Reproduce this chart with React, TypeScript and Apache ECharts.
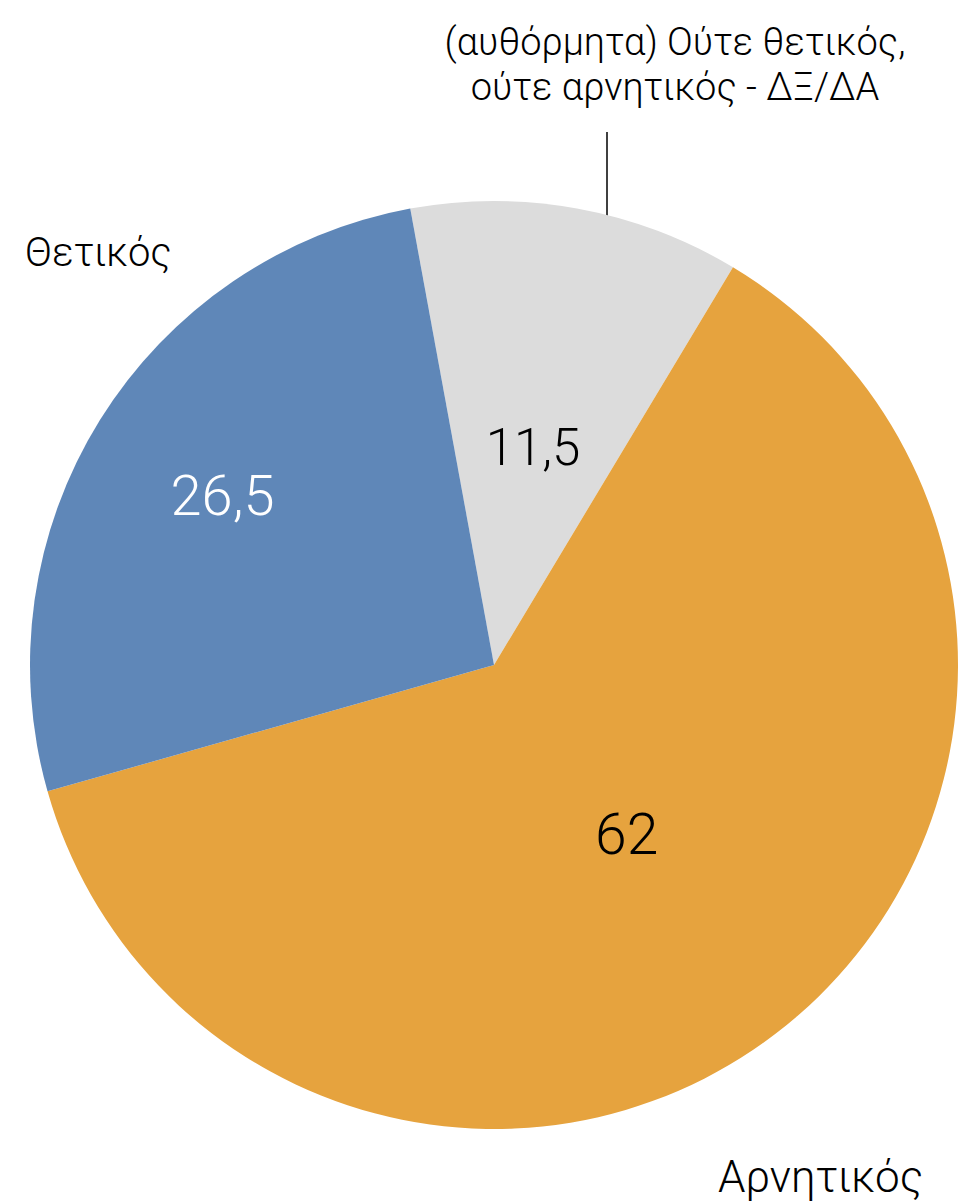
import React, { useEffect, useRef } from "react";
import * as echarts from "echarts";

const categories = [
  "(αυθόρμητα) Ούτε θετικός,\nούτε αρνητικός - ΔΞ/ΔΑ",
  "Αρνητικός",
  "Θετικός",
];
const values = [11.5, 62, 26.5];
const colors = ["#DCDCDC", "#E6A33E", "#5F87B8"];
const labelColors = ["#000000", "#000000", "#FFFFFF"];
const labelSizes = [51, 57, 56];
const labelOffsets = [
  [-3, 14],
  [-10, -17],
  [-72, -45],
];

const FONT = "Roboto, 'Liberation Sans', sans-serif";

export default function App() {
  const ref = useRef<HTMLDivElement>(null);
  useEffect(() => {
    document.body.style.margin = "0";
    const chart = echarts.init(ref.current!, undefined, { renderer: "svg" });
    chart.setOption({
      animation: false,
      backgroundColor: "#ffffff",
      series: [
        {
          type: "pie",
          center: [494, 665],
          radius: [0, 464],
          startAngle: 100.4,
          clockwise: true,
          avoidLabelOverlap: false,
          labelLine: { show: false },
          itemStyle: { borderWidth: 0 },
          data: categories.map((name, i) => ({
            name,
            value: values[i],
            itemStyle: { color: colors[i] },
            label: {
              show: true,
              position: "inside",
              formatter: () => String(values[i]).replace(".", ","),
              color: labelColors[i],
              fontSize: labelSizes[i],
              fontFamily: FONT,
              fontWeight: 300,
              offset: labelOffsets[i],
            },
          })),
        },
      ],
      graphic: [
        {
          type: "text",
          x: 675,
          y: 64,
          style: {
            text: categories[0],
            font: `300 38px ${FONT}`,
            fill: "#000",
            align: "center",
            verticalAlign: "middle",
            lineHeight: 45,
          },
        },
        {
          type: "line",
          shape: { x1: 607, y1: 132, x2: 607, y2: 219 },
          style: { stroke: "#000", lineWidth: 1.5 },
        },
        {
          type: "text",
          x: 25,
          y: 252,
          style: {
            text: categories[2],
            font: `300 40px ${FONT}`,
            fill: "#000",
            align: "left",
            verticalAlign: "middle",
          },
        },
        {
          type: "text",
          x: 718,
          y: 1177,
          style: {
            text: categories[1],
            font: `300 44px ${FONT}`,
            fill: "#000",
            align: "left",
            verticalAlign: "middle",
          },
        },
      ],
    });
    return () => chart.dispose();
  }, []);
  return <div ref={ref} style={{ width: 960, height: 1204 }} />;
}
